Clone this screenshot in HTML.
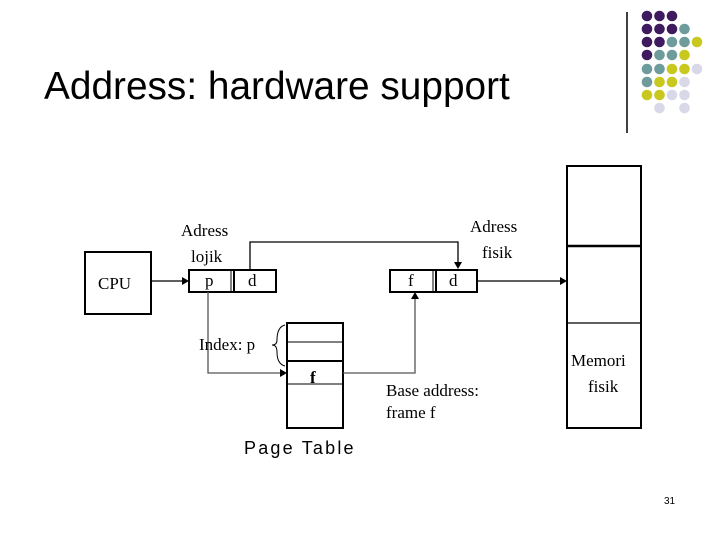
<!DOCTYPE html>
<html><head><style>
body{margin:0;width:720px;height:540px;background:#fff;overflow:hidden;position:relative;font-family:"Liberation Serif",serif}
.t{position:absolute;font-family:"Liberation Sans",sans-serif;font-size:38.8px;left:44px;top:65px;color:#000}
</style></head><body>
<div class="t">Address: hardware support</div>
<svg width="720" height="540" style="position:absolute;left:0;top:0">
<line x1="627" y1="12" x2="627" y2="133" stroke="#000" stroke-width="1.5"/>
<g id="dots"></g>
<g fill="none" stroke="#000" stroke-width="2">
<rect x="85" y="252" width="66" height="62"/>
<rect x="189" y="270" width="87" height="22"/>
<line x1="231" y1="270" x2="231" y2="292" stroke-width="1"/><line x1="234" y1="270" x2="234" y2="292"/>
<rect x="390" y="270" width="87" height="22"/>
<line x1="433" y1="270" x2="433" y2="292" stroke-width="1"/><line x1="436" y1="270" x2="436" y2="292"/>
<rect x="567" y="166" width="74" height="262"/>
<line x1="567" y1="246" x2="641" y2="246" stroke-width="2.5"/>
<line x1="567" y1="323" x2="641" y2="323" stroke-width="1.2"/>
<rect x="287" y="323" width="56" height="105"/>
<line x1="287" y1="342" x2="343" y2="342" stroke-width="1"/>
<line x1="287" y1="361" x2="343" y2="361" stroke-width="2"/>
<line x1="287" y1="384" x2="343" y2="384" stroke-width="1"/>
</g>
<g fill="none" stroke="#000" stroke-width="1.3">
<line x1="151" y1="281" x2="183" y2="281"/>
<polyline points="250,270 250,242 458,242 458,263"/>
<line x1="477" y1="281" x2="561" y2="281"/>
<polyline points="208,292 208,373 280,373" stroke="#555"/>
<polyline points="343,373 415,373 415,298" stroke="#555"/>
<path d="M285,325 Q277,327 277,340 Q277,345 272,345 Q277,345 277,352 Q277,364 285,366" stroke-width="1"/>
</g>
<g fill="#000">
<polygon points="189,281 182,277 182,285"/>
<polygon points="458,269 454,262 462,262"/>
<polygon points="567,281 560,277 560,285"/>
<polygon points="287,373 280,369 280,377"/>
<polygon points="415,292 411,299 419,299"/>
</g>
<g font-family="Liberation Serif,serif" font-size="17" fill="#000">
<text x="98" y="289">CPU</text>
<text x="181" y="236">Adress</text>
<text x="191" y="262">lojik</text>
<text x="205" y="286">p</text>
<text x="248" y="286">d</text>
<text x="408" y="286">f</text>
<text x="449" y="286">d</text>
<text x="470" y="232">Adress</text>
<text x="482" y="258">fisik</text>
<text x="199" y="350">Index: p</text>
<text x="310" y="383" font-weight="bold">f</text>
<text x="386" y="396">Base address:</text>
<text x="386" y="418">frame f</text>
<text x="571" y="366">Memori</text>
<text x="588" y="392">fisik</text>
</g>
<text x="244" y="454" font-family="Liberation Sans,sans-serif" font-size="18" letter-spacing="2.2">Page Table</text>
<text x="664" y="504" font-family="Liberation Sans,sans-serif" font-size="10">31</text>
</svg>
<script>
var rows=["PPP","PPPT","PPTTY","PTTY","TTYYL","TYYL","YYLL",".L.L"];
var c={P:"#3f1a5e",T:"#6e9b9b",Y:"#c8c81e",L:"#d8d8e8"};
var xs=[647,659.5,672,684.5,697],ys=[16,29,42,55,69,82,95,108],s="";
rows.forEach(function(r,i){for(var j=0;j<r.length;j++){if(c[r[j]])s+='<circle cx="'+xs[j]+'" cy="'+ys[i]+'" r="5.3" fill="'+c[r[j]]+'"/>';}});
document.getElementById("dots").innerHTML=s;
</script>
</body></html>
